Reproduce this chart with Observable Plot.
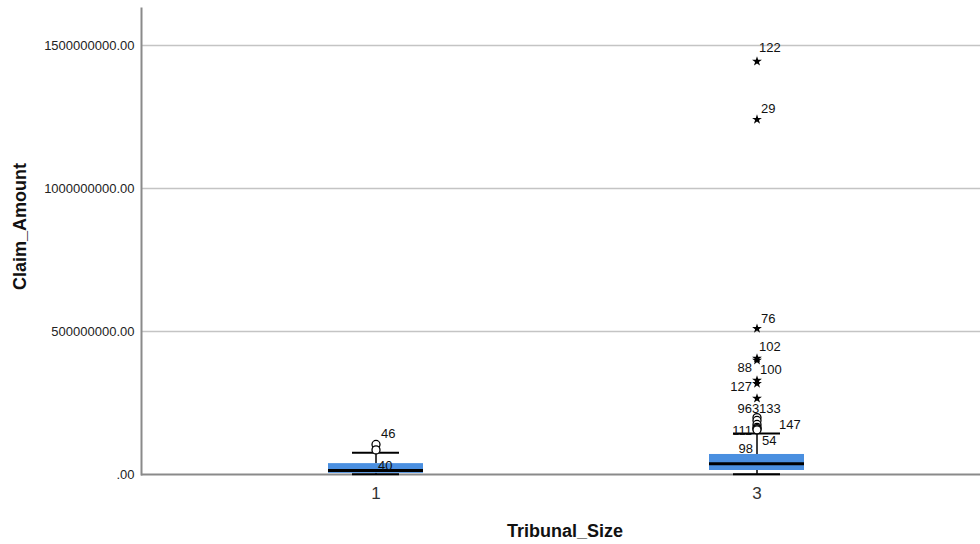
<!DOCTYPE html>
<html>
<head>
<meta charset="utf-8">
<script src="https://cdn.jsdelivr.net/npm/d3@7"></script>
<script src="https://cdn.jsdelivr.net/npm/@observablehq/plot@0.6"></script>
<style>
  html, body { margin: 0; padding: 0; background: #fff; }
  #chart svg { display: block; }
</style>
</head>
<body>
<div id="chart"></div>
<script>
// Box-plot summary per tribunal size
const groups = ["1", "3"];
const lowerWhisker = [0.5e6, 1e6];
const q1 = [4e6, 14e6];
const median = [14e6, 38e6];
const q3 = [38e6, 70e6];
const upperWhisker = [76e6, 143e6];

// Outlying cases: group, case number, claim amount
const outlierGroup = ["1", "1", "3", "3", "3", "3", "3", "3", "3", "3", "3", "3", "3", "3", "3", "3"];
const outlierCase = ["46", "40", "122", "29", "76", "102", "88", "100", "127", "96", "3", "133", "111", "147", "54", "98"];
const outlierValue = [105e6, 86e6, 1444e6, 1241e6, 510e6, 406e6, 399e6, 329e6, 318e6, 266e6, 199e6, 189e6, 175e6, 165e6, 160e6, 156e6];

// Value-axis ticks
const yTicks = [0, 500000000, 1000000000, 1500000000];

// Where each case label sits next to its marker (pixels)
const labelPlacement = {
  "46": [5, -11, "start"], "40": [2, 16, "start"],
  "122": [2, -14, "start"], "29": [4, -11, "start"], "76": [4, -10, "start"],
  "102": [2, -12, "start"], "88": [-5, 7, "end"], "100": [3, -11, "start"],
  "127": [-5, 3, "end"], "96": [-5, 10, "end"], "3": [-5, -9, "start"],
  "133": [2, -12, "start"], "111": [-5, 6, "end"], "147": [22, -2, "start"],
  "54": [5, 12, "start"], "98": [-4, 19, "end"]
};

const boxes = groups.map((g, i) => ({
  group: g, low: lowerWhisker[i], q1: q1[i], median: median[i], q3: q3[i], high: upperWhisker[i]
}));

// SPSS convention: beyond 3 IQR from the box is an extreme (star), else a circle
const outliers = outlierCase.map((c, i) => {
  const b = boxes.find(d => d.group === outlierGroup[i]);
  const extreme = outlierValue[i] > b.q3 + 3 * (b.q3 - b.q1);
  return { group: outlierGroup[i], id: c, value: outlierValue[i], extreme };
});

const blue = "#4a8fe0";
const grid = "#c4c4c4";
const axisGrey = "#8a8a8a";
const font = "Liberation Sans, Arial, sans-serif";

const labelMarks = outliers.map(d => {
  const [dx, dy, anchor] = labelPlacement[d.id];
  return Plot.text([d], {
    x: "group", y: "value", text: "id",
    dx, dy, textAnchor: anchor,
    fontSize: 13, fill: "#111", fontFamily: font
  });
});

const chart = Plot.plot({
  width: 980,
  height: 544,
  marginLeft: 141,
  marginRight: 0,
  marginTop: 8,
  marginBottom: 70,
  style: { fontFamily: font, background: "#fff" },
  x: {
    type: "band",
    domain: groups,
    range: [141, 991],
    paddingInner: 0.75,
    paddingOuter: 0.4876,
    align: 0.5,
    axis: null
  },
  y: { domain: [0, 1629e6], axis: null },
  marks: [
    Plot.ruleY(yTicks.filter(t => t > 0), { stroke: grid, strokeWidth: 1.5 }),
    Plot.axisY(yTicks, {
      tickSize: 0, tickPadding: 7, fontSize: 13, fill: "#222",
      tickFormat: d => d === 0 ? ".00" : d.toFixed(2),
      label: null
    }),
    Plot.axisX(groups, {
      tickSize: 0, tickPadding: 12, fontSize: 17, fill: "#333", label: null
    }),
    // axis lines
    Plot.ruleY([0], { stroke: axisGrey, strokeWidth: 2 }),
    Plot.frame({ anchor: "left", stroke: axisGrey, strokeWidth: 2 }),
    // whiskers
    Plot.ruleX(boxes, { x: "group", y1: "q3", y2: "high", stroke: "#000", strokeWidth: 1.5 }),
    Plot.ruleX(boxes, { x: "group", y1: "low", y2: "q1", stroke: "#000", strokeWidth: 1.5 }),
    // boxes
    Plot.barY(boxes, { x: "group", y1: "q1", y2: "q3", fill: blue }),
    Plot.tickY(boxes, { x: "group", y: "median", stroke: "#000", strokeWidth: 3 }),
    // whisker caps
    Plot.tickY(boxes, { x: "group", y: "high", stroke: "#000", strokeWidth: 2, insetLeft: 24, insetRight: 24 }),
    Plot.tickY(boxes, { x: "group", y: "low", stroke: "#000", strokeWidth: 2, insetLeft: 24, insetRight: 24 }),
    // outliers and extremes
    Plot.dot(outliers.filter(d => !d.extreme), {
      x: "group", y: "value", r: 4, fill: "#fff", stroke: "#000", strokeWidth: 1.3
    }),
    Plot.dot(outliers.filter(d => d.extreme), {
      x: "group", y: "value", symbol: "star", r: 3.1, fill: "#000", stroke: "none"
    }),
    ...labelMarks,
    // axis titles
    Plot.text(["Tribunal_Size"], {
      frameAnchor: "bottom", dx: 4, dy: 62, fontSize: 18, fontWeight: "bold", fill: "#111"
    }),
    Plot.text(["Claim_Amount"], {
      frameAnchor: "left", textAnchor: "middle", rotate: -90, dx: -121, dy: -15,
      fontSize: 18, fontWeight: "bold", fill: "#111"
    })
  ]
});

document.getElementById("chart").appendChild(chart);
</script>
</body>
</html>
